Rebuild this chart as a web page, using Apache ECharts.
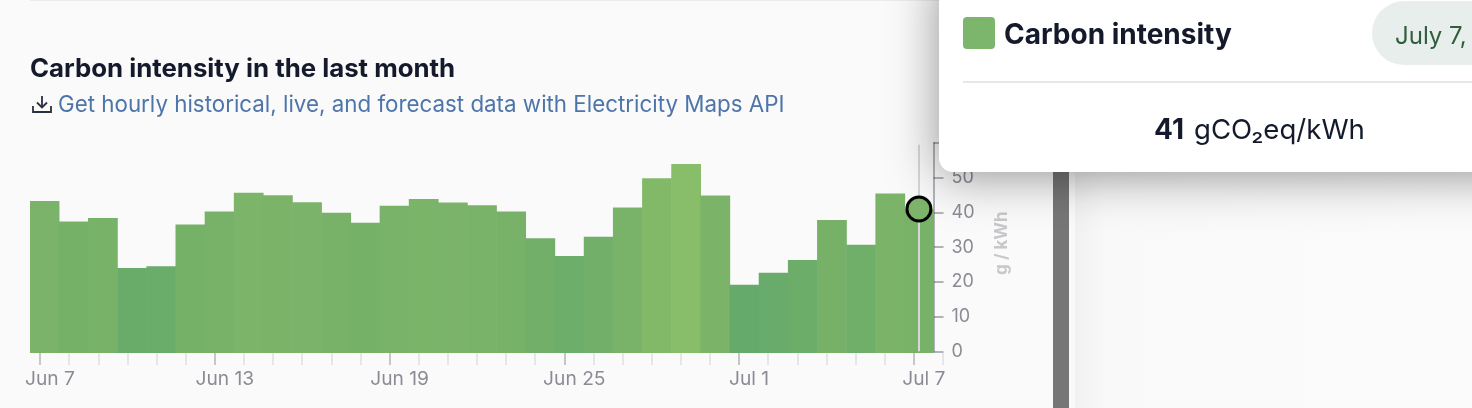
<!DOCTYPE html>
<html><head><meta charset="utf-8">
<style>html,body{margin:0;padding:0;background:#fafafa;overflow:hidden}#c{width:1472px;height:408px}</style>
<script src="https://cdn.jsdelivr.net/npm/echarts@6/dist/echarts.min.js"></script>
</head><body><div id="c"></div>
<script>
const FONT = 'Inter, "Noto Sans", sans-serif';
const barDays = ['Jun 7','Jun 8','Jun 9','Jun 10','Jun 11','Jun 12','Jun 13','Jun 14','Jun 15','Jun 16','Jun 17','Jun 18','Jun 19','Jun 20','Jun 21','Jun 22','Jun 23','Jun 24','Jun 25','Jun 26','Jun 27','Jun 28','Jun 29','Jun 30','Jul 1','Jul 2','Jul 3','Jul 4','Jul 5','Jul 6','Jul 7'];
const tickDays = barDays.concat(['Jul 8']);
const intensity = [43.4,37.6,38.6,24.3,24.8,36.7,40.4,45.8,45.1,43.1,40.1,37.2,42.1,44.0,43.0,42.2,40.4,32.8,27.7,33.2,41.6,49.9,54.0,45.0,19.5,22.9,26.6,38.0,30.9,45.6,41];
const hoverDay = 'Jul 7';
const hoverValue = 41;
const colorStops = ['#65a96b','#6dae6a','#76b168','#7bb469','#88bd69'];
const titleText = 'Carbon intensity in the last month';
const linkText = 'Get hourly historical, live, and forecast data with Electricity Maps API';
const axisColor = 'rgba(60,60,75,0.38)';
const everySixth = (i) => i % 6 === 0;
const chart = echarts.init(document.getElementById('c'), null, {renderer:'canvas', width:1472, height:408});
chart.setOption({
  animation:false,
  backgroundColor:'#fafafa',
  textStyle:{fontFamily:FONT},
  title:[
    {text:titleText,left:30,top:56,padding:0,textStyle:{fontFamily:FONT,fontSize:25.8,fontWeight:700,color:'#141a2b'}},
    {text:linkText,left:58,top:94.5,padding:0,textStyle:{fontFamily:FONT,fontSize:22.35,fontWeight:400,color:'#4e75aa'}}
  ],
  grid:[
    {left:30,width:904,top:143,height:210},
    {left:40,width:903,top:352,height:1},
    {left:30,width:903.5,top:143,height:208.3}
  ],
  xAxis:[
    {gridIndex:0,type:'category',data:barDays,show:false},
    {gridIndex:1,type:'category',position:'bottom',data:tickDays,boundaryGap:false,
      axisLine:{show:false},axisLabel:{show:false},
      axisTick:{show:true,interval:0,length:12,lineStyle:{color:'#e6e6e8',width:2}}},
    {gridIndex:1,type:'category',position:'bottom',data:tickDays,boundaryGap:false,
      axisLine:{show:false},
      axisTick:{show:true,interval:everySixth,length:12,lineStyle:{color:'#c6c6cb',width:2}},
      axisLabel:{show:true,interval:everySixth,hideOverlap:false,margin:17,padding:[0,0,0,20],fontSize:19.2,fontFamily:FONT,color:'#8b8b95'}},
    {gridIndex:2,type:'category',data:barDays,show:false}
  ],
  yAxis:[
    {gridIndex:0,type:'value',min:0,max:60,show:false},
    {gridIndex:1,type:'value',show:false},
    {gridIndex:2,type:'value',min:0,max:60,interval:10,position:'right',
      name:'g / kWh',nameLocation:'middle',nameRotate:90,nameGap:60,
      nameTextStyle:{fontFamily:FONT,fontSize:17,fontWeight:700,color:'#c8c8cb',padding:[0,0,0,8]},
      splitLine:{show:false},
      axisLine:{show:true,lineStyle:{color:axisColor,width:2}},
      axisTick:{show:true,length:10,lineStyle:{color:axisColor,width:2}},
      axisLabel:{margin:18,padding:[2,0,0,0],fontSize:18,fontFamily:FONT,color:'#8b8b95'}}
  ],
  visualMap:{show:false,type:'continuous',seriesIndex:0,dimension:1,min:19.5,max:54,inRange:{color:colorStops}},
  series:[
    {type:'bar',xAxisIndex:0,yAxisIndex:0,data:intensity,barWidth:'102%',barGap:0,z:2},
    {type:'scatter',xAxisIndex:3,yAxisIndex:2,z:6,symbol:'circle',symbolSize:24,
      data:[[hoverDay,hoverValue]],
      itemStyle:{color:'#7db56a',borderColor:'#000',borderWidth:3,opacity:1},
      markLine:{silent:true,symbol:'none',z:3,label:{show:false},lineStyle:{color:'#d6d6d6',width:2,type:'solid'},
        data:[[{coord:[hoverDay,59.5]},{coord:[hoverDay,0]}]]}}
  ],
  graphic:[
    {type:'rect',z:1,silent:true,shape:{x:30,y:0,width:920,height:1},style:{fill:'#ececec'}},
    {type:'rect',z:1,silent:true,shape:{x:1053,y:0,width:16,height:408},style:{fill:'#767676'}},
    {type:'rect',z:1,silent:true,shape:{x:1075,y:0,width:397,height:408},style:{fill:new echarts.graphic.LinearGradient(0,0,1,0,[{offset:0,color:'#f1f1f1'},{offset:0.08,color:'#f9f9f9'},{offset:1,color:'#fbfbfb'}])}},
    {type:'polyline',z:10,silent:true,shape:{points:[[33,106],[33,112],[51,112],[51,106]]},style:{fill:null,stroke:'#2b3040',lineWidth:1.8}},
    {type:'polyline',z:10,silent:true,shape:{points:[[42,96],[42,107]]},style:{fill:null,stroke:'#2b3040',lineWidth:1.8}},
    {type:'polyline',z:10,silent:true,shape:{points:[[37,102.5],[42,107.5],[47,102.5]]},style:{fill:null,stroke:'#2b3040',lineWidth:1.8}},
    {type:'rect',z:50,silent:true,shape:{x:939,y:-30,width:600,height:202,r:14},style:{fill:'#ffffff',shadowBlur:48,shadowColor:'rgba(0,0,0,0.42)',shadowOffsetY:4}},
    {type:'rect',z:51,silent:true,shape:{x:963,y:17,width:32,height:32,r:4},style:{fill:'#7cb66c'}},
    {type:'text',z:51,silent:true,x:1004,y:36,style:{text:'Carbon intensity',font:'700 28px '+FONT,fill:'#141a2b',textVerticalAlign:'middle'}},
    {type:'rect',z:51,silent:true,shape:{x:1372,y:1,width:200,height:64,r:32},style:{fill:'#e8eeeb'}},
    {type:'text',z:52,silent:true,x:1395,y:37,style:{text:'July 7,',font:'400 24px '+FONT,fill:'#2f5d3e',textVerticalAlign:'middle'}},
    {type:'rect',z:51,silent:true,shape:{x:963,y:81,width:520,height:2},style:{fill:'#e6e7ec'}},
    {type:'text',z:51,silent:true,x:1259.5,y:131,style:{
      text:'{b|41}{n|gCO₂eq/kWh}',align:'center',verticalAlign:'middle',
      rich:{b:{font:'700 28px '+FONT,fill:'#141a2b'},n:{font:'400 27.6px '+FONT,fill:'#141a2b',padding:[0,0,0,10]}}}}
  ]
});
</script></body></html>
